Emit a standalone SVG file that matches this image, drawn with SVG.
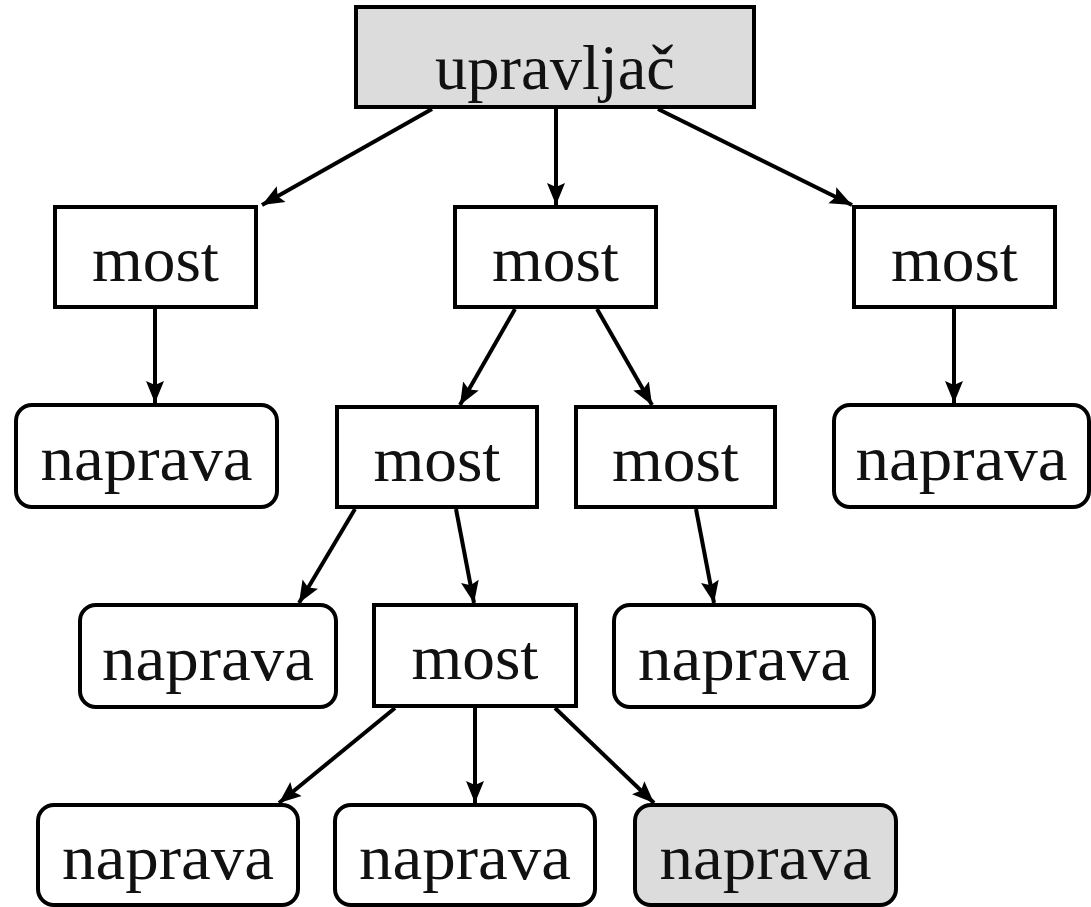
<svg xmlns="http://www.w3.org/2000/svg" width="1091" height="907" viewBox="0 0 1091 907">
<style>
.box{fill:#fff;stroke:#000;stroke-width:4}
.gray{fill:#dcdcdc}
.t{font-family:"Liberation Serif","DejaVu Serif",serif;font-size:64px;text-anchor:middle;fill:#111}
.c{stroke:#000;stroke-width:4;fill:none;marker-end:url(#ah)}
</style>
<defs>
<marker id="ah" markerUnits="userSpaceOnUse" markerWidth="24" markerHeight="20" refX="22" refY="10" orient="auto">
<path d="M0,1 L22,10 L0,19 L4,10 Z" fill="#000"/>
</marker>
</defs>
<rect width="1091" height="907" fill="#fff"/>
<g id="connectors">
<line class="c" x1="432" y1="109" x2="262" y2="205"/>
<line class="c" x1="556" y1="109" x2="556" y2="205"/>
<line class="c" x1="658" y1="109" x2="852" y2="205"/>
<line class="c" x1="155" y1="309" x2="155" y2="403"/>
<line class="c" x1="515" y1="309" x2="460" y2="405"/>
<line class="c" x1="597" y1="309" x2="652" y2="405"/>
<line class="c" x1="954" y1="309" x2="954" y2="403"/>
<line class="c" x1="355" y1="509" x2="299" y2="603"/>
<line class="c" x1="456" y1="509" x2="474" y2="603"/>
<line class="c" x1="696" y1="509" x2="714" y2="603"/>
<line class="c" x1="395" y1="708" x2="279" y2="803"/>
<line class="c" x1="475" y1="708" x2="475" y2="803"/>
<line class="c" x1="555" y1="708" x2="654" y2="803"/>
</g>
<g id="upravljac"><rect class="box gray" x="356" y="7" width="398" height="100"/><text class="t" x="555" y="89" textLength="240" lengthAdjust="spacingAndGlyphs">upravljač</text></g>
<g id="most1"><rect class="box" x="55" y="207" width="201" height="100"/><text class="t" x="155.5" y="281" textLength="127" lengthAdjust="spacingAndGlyphs">most</text></g>
<g id="most2"><rect class="box" x="455" y="207" width="201" height="100"/><text class="t" x="555.5" y="281" textLength="127" lengthAdjust="spacingAndGlyphs">most</text></g>
<g id="most3"><rect class="box" x="854" y="207" width="201" height="100"/><text class="t" x="954.5" y="281" textLength="127" lengthAdjust="spacingAndGlyphs">most</text></g>
<g id="naprava1"><rect class="box" x="16" y="405" width="261" height="102" rx="16"/><text class="t" x="146.5" y="480" textLength="212" lengthAdjust="spacingAndGlyphs">naprava</text></g>
<g id="most4"><rect class="box" x="337" y="407" width="200" height="100"/><text class="t" x="437" y="481" textLength="127" lengthAdjust="spacingAndGlyphs">most</text></g>
<g id="most5"><rect class="box" x="576" y="407" width="199" height="100"/><text class="t" x="675.5" y="481" textLength="127" lengthAdjust="spacingAndGlyphs">most</text></g>
<g id="naprava2"><rect class="box" x="834" y="405" width="255" height="102" rx="16"/><text class="t" x="961.5" y="480" textLength="212" lengthAdjust="spacingAndGlyphs">naprava</text></g>
<g id="naprava3"><rect class="box" x="80" y="605" width="256" height="102" rx="16"/><text class="t" x="208" y="680" textLength="212" lengthAdjust="spacingAndGlyphs">naprava</text></g>
<g id="most6"><rect class="box" x="374" y="605" width="202" height="101"/><text class="t" x="475" y="679" textLength="127" lengthAdjust="spacingAndGlyphs">most</text></g>
<g id="naprava4"><rect class="box" x="614" y="605" width="260" height="102" rx="16"/><text class="t" x="744" y="680" textLength="212" lengthAdjust="spacingAndGlyphs">naprava</text></g>
<g id="naprava5"><rect class="box" x="38" y="805" width="260" height="100" rx="16"/><text class="t" x="168" y="879" textLength="212" lengthAdjust="spacingAndGlyphs">naprava</text></g>
<g id="naprava6"><rect class="box" x="335" y="805" width="260" height="100" rx="16"/><text class="t" x="465" y="879" textLength="212" lengthAdjust="spacingAndGlyphs">naprava</text></g>
<g id="naprava7"><rect class="box gray" x="635" y="805" width="261" height="100" rx="16"/><text class="t" x="765.5" y="879" textLength="212" lengthAdjust="spacingAndGlyphs">naprava</text></g>
</svg>
